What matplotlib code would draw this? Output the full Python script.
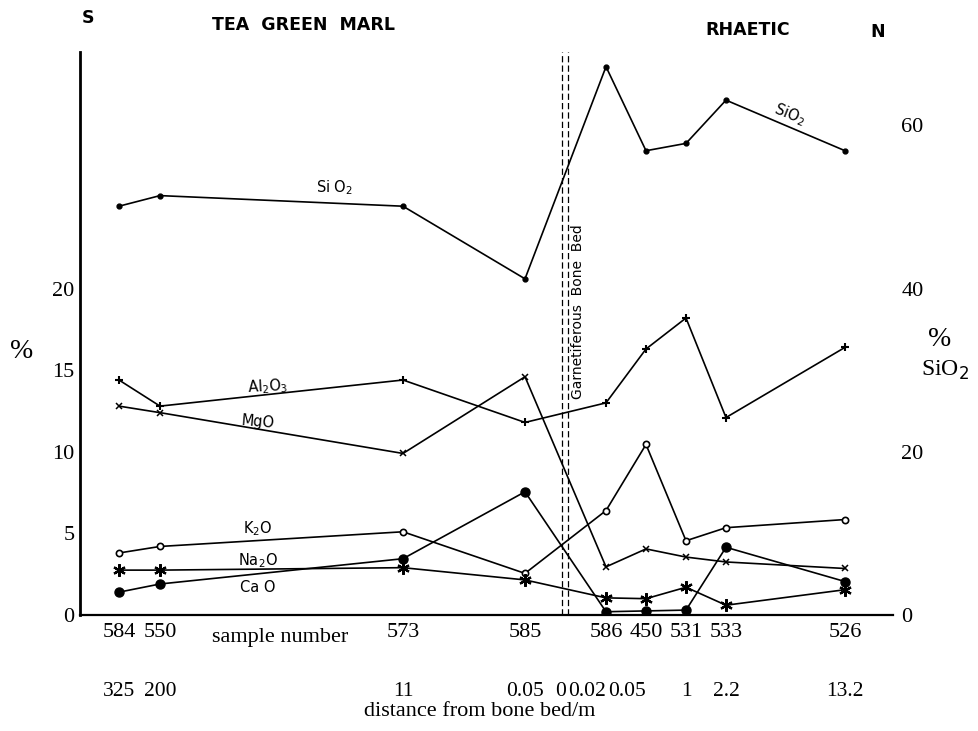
import numpy as np
import matplotlib
matplotlib.use("Agg")
import matplotlib.pyplot as plt
from matplotlib.transforms import blended_transform_factory

# sample order along the section, S -> N
samples = ["584", "550", "573", "585", "586", "450", "531", "533", "526"]
distance = ["325", "200", "11", "0.05", "0.02", "0.05", "1", "2.2", "13.2"]
x_pos = [3.9, 8.0, 32.3, 44.5, 52.6, 56.6, 60.6, 64.6, 76.5]
bone_bed_x = 48.5

# oxide contents (%)
al2o3 = [14.4, 12.8, 14.4, 11.8, 13.0, 16.3, 18.2, 12.1, 16.4]
mgo = [12.8, 12.4, 9.9, 14.6, 2.95, 4.05, 3.55, 3.25, 2.85]
k2o = [3.8, 4.2, 5.1, 2.55, 6.4, 10.45, 4.55, 5.35, 5.85]
na2o = [2.75, 2.75, 2.9, 2.15, 1.05, 1.0, 1.7, 0.6, 1.55]
cao = [1.4, 1.9, 3.45, 7.55, 0.2, 0.25, 0.3, 4.15, 2.05]
sio2 = [50.1, 51.4, 50.1, 41.2, 67.2, 56.9, 57.8, 63.1, 56.9]

serif = "Liberation Serif"
sans = "DejaVu Sans"

fig = plt.figure(figsize=(9.79, 7.31), dpi=100)
W, H = 979, 731
ax = fig.add_axes([80 / W, (H - 615) / H, (893 - 80) / W, (615 - 52) / H])
ax.set_xlim(0, 81.3)
ax.set_ylim(0, 34.5)

lw = 1.2
ax.plot(x_pos, al2o3, color="black", lw=lw, marker="+", ms=6, mew=1.5)
ax.plot(x_pos, mgo, color="black", lw=lw, marker="x", ms=4, mew=1.1)
ax.plot(x_pos, k2o, color="black", lw=lw, marker="o", ms=4.5, mfc="white", mew=1.2)
ax.plot(x_pos, na2o, color="black", lw=lw, marker=(6, 2, 0), ms=9, mew=1.6)
ax.plot(x_pos, cao, color="black", lw=lw, marker="o", ms=6.5)

ax2 = ax.twinx()
ax2.set_ylim(0, 69.0)
ax2.plot(x_pos, sio2, color="black", lw=lw, marker="o", ms=3.5)

# bone bed
for dx in (-0.3, 0.3):
    ax.axvline(bone_bed_x + dx, color="black", lw=0.9, ls=(0, (5, 2.5)))
ax.text(bone_bed_x + 1.3, 18.6, "Garnetiferous  Bone  Bed", rotation=90,
        ha="center", va="center", fontsize=10, family=sans)

for a in (ax, ax2):
    for s in ("top", "right"):
        a.spines[s].set_visible(False)
    a.spines["left"].set_visible(a is ax)
    a.spines["bottom"].set_visible(a is ax)
    a.tick_params(length=0)
ax.spines["left"].set_linewidth(2.0)
ax.spines["bottom"].set_linewidth(1.6)

ax.set_yticks([0, 5, 10, 15, 20])
ax.set_yticklabels(["0", "5", "10", "15", "20"], family=serif, fontsize=16)
ax.tick_params(axis="y", pad=4)
ax2.set_yticks([0, 20, 40, 60])
ax2.set_yticklabels(["0", "20", "40", "60"], family=serif, fontsize=16)
ax2.tick_params(axis="y", pad=6)

ax.set_xticks(x_pos)
ax.set_xticklabels(samples, family=serif, fontsize=16)
ax.tick_params(axis="x", pad=6)

tr = blended_transform_factory(ax.transData, ax.transAxes)
for i, (x, d) in enumerate(zip(x_pos, distance)):
    # the two labels next to the bone bed are pushed right of the "0"
    ha = "right" if i in (4, 5) else "center"
    ax.text(x, -0.135, d, transform=tr, ha=ha, va="center",
            family=serif, fontsize=15.5)
ax.text(bone_bed_x - 0.4, -0.135, "0", transform=tr, ha="center", va="center",
        family=serif, fontsize=15.5)
ax.text(20.0, -0.04, "sample number", transform=tr, ha="center", va="center",
        family=serif, fontsize=16)
fig.text(480 / W, 1 - 712 / H, "distance from bone bed/m", ha="center",
         va="center", family=serif, fontsize=16)

# axis labels
fig.text(22 / W, 1 - 352 / H, "%", ha="center", va="center", family=serif, fontsize=20)
fig.text(940 / W, 1 - 340 / H, "%", ha="center", va="center", family=serif, fontsize=20)
fig.text(945 / W, 1 - 370 / H, "SiO$_2$", ha="center", va="center",
         family=serif, fontsize=17)

# header
hdr = dict(ha="center", va="center", family=sans, fontsize=12.5, fontweight="bold")
fig.text(88 / W, 1 - 18 / H, "S", **hdr)
fig.text(304 / W, 1 - 25 / H, "TEA  GREEN  MARL", **hdr)
fig.text(748 / W, 1 - 30 / H, "RHAETIC", **hdr)
fig.text(878 / W, 1 - 32 / H, "N", **hdr)

# series labels
lab = dict(ha="center", va="center", family=sans, fontsize=10.5)
ax.text(25.5, 26.2, "Si O$_2$", **lab)
ax.text(71.0, 30.7, "SiO$_2$", rotation=-22, **lab)
ax.text(18.8, 14.0, "Al$_2$O$_3$", rotation=3, **lab)
ax.text(17.8, 11.8, "MgO", rotation=-5, **lab)
ax.text(17.8, 5.3, "K$_2$O", **lab)
ax.text(17.8, 3.35, "Na$_2$O", **lab)
ax.text(17.8, 1.7, "Ca O", **lab)

fig.savefig("out.png", dpi=100)
